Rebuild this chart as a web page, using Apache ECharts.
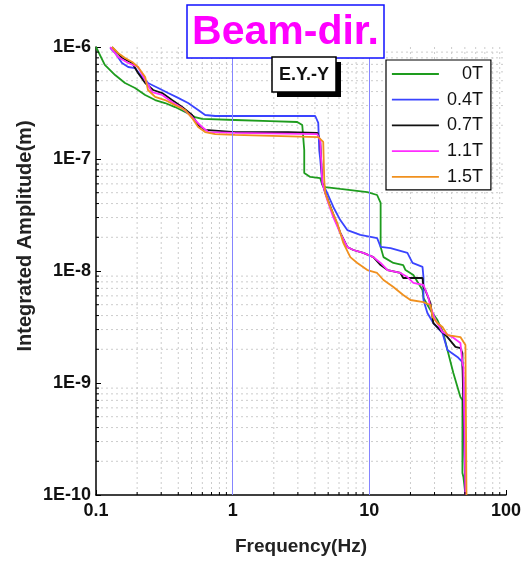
<!DOCTYPE html>
<html><head><meta charset="utf-8">
<script src="https://cdn.jsdelivr.net/npm/echarts@6/dist/echarts.min.js"></script>
<style>html,body{margin:0;padding:0;background:#fff}#c{width:524px;height:561px}</style>
</head><body><div id="c"></div>
<script>
const seriesNames = ['0T', '0.4T', '0.7T', '1.1T', '1.5T'];
const xTickLabels = ['0.1', '1', '10', '100'];
const yTickLabels = ['1E-10', '1E-9', '1E-8', '1E-7', '1E-6'];

const freq0T = [0.1, 0.116, 0.138, 0.163, 0.193, 0.229, 0.271, 0.32, 0.379, 0.449, 0.531, 0.598, 1.04, 1.88, 2.97, 3.23, 3.34, 3.34, 3.7, 4.37, 4.53, 4.76, 6.13, 9.67, 11.4, 12.1, 12.1, 12.7, 15.0, 17.7, 18.4, 21.0, 24.5, 24.9, 28.0, 31.5, 34.8, 37.3, 41.2, 46.4, 48.0, 48.0, 48.8, 50.5];
const amp0T = [1e-6, 6.91e-7, 5.62e-7, 4.77e-7, 4.31e-7, 3.73e-7, 3.36e-7, 3.16e-7, 2.91e-7, 2.63e-7, 2.37e-7, 2.28e-7, 2.23e-7, 2.18e-7, 2.14e-7, 2.01e-7, 1.2e-7, 7.5e-8, 6.91e-8, 6.76e-8, 5.86e-8, 5.62e-8, 5.4e-8, 5.07e-8, 4.77e-8, 4.05e-8, 1.64e-8, 1.33e-8, 1.18e-8, 1.13e-8, 1.02e-8, 9.2e-9, 6.76e-9, 5.74e-9, 4.49e-9, 3.65e-9, 2.79e-9, 1.97e-9, 1.23e-9, 7.5e-10, 7.05e-10, 1.57e-10, 1.45e-10, 1e-10];

const freq04T = [0.127, 0.138, 0.155, 0.172, 0.193, 0.217, 0.24, 0.285, 0.337, 0.399, 0.472, 0.559, 0.629, 0.745, 4.02, 4.23, 4.3, 4.37, 4.53, 4.92, 5.45, 6.13, 6.9, 8.59, 11.4, 12.1, 14.3, 19.0, 20.7, 24.5, 24.9, 24.9, 26.6, 29.4, 34.3, 37.3, 44.1, 48.0, 48.8, 50.5];
const amp04T = [9.8e-7, 8.84e-7, 7.2e-7, 6.63e-7, 6.49e-7, 5.4e-7, 4.77e-7, 4.31e-7, 3.88e-7, 3.51e-7, 3.16e-7, 2.74e-7, 2.47e-7, 2.42e-7, 2.42e-7, 2.1e-7, 1.2e-7, 1e-7, 6.1e-8, 4.97e-8, 3.73e-8, 2.85e-8, 2.32e-8, 2.1e-8, 1.97e-8, 1.64e-8, 1.6e-8, 1.45e-8, 1.18e-8, 1.09e-8, 8.83e-9, 5.51e-9, 4.22e-9, 3.43e-9, 2.79e-9, 1.97e-9, 1.71e-9, 1.54e-9, 1.06e-9, 1e-10];

const freq07T = [0.131, 0.155, 0.184, 0.203, 0.229, 0.262, 0.305, 0.36, 0.427, 0.505, 0.559, 0.629, 1.04, 2.55, 4.16, 4.37, 4.53, 4.76, 5.45, 6.13, 6.9, 7.64, 9.04, 10.7, 12.1, 13.6, 16.9, 17.7, 24.5, 24.9, 25.7, 28.0, 29.4, 33.1, 37.3, 42.7, 46.4, 48.0, 48.0, 50.5];
const amp07T = [1e-6, 7.98e-7, 7.2e-7, 5.86e-7, 4.77e-7, 4.13e-7, 3.88e-7, 3.36e-7, 2.91e-7, 2.47e-7, 2.01e-7, 1.82e-7, 1.74e-7, 1.74e-7, 1.71e-7, 1.47e-7, 6.1e-8, 4.97e-8, 3.2e-8, 2.2e-8, 1.64e-8, 1.54e-8, 1.45e-8, 1.33e-8, 1.13e-8, 1.02e-8, 9.6e-9, 8.66e-9, 8.66e-9, 7.2e-9, 6.76e-9, 5.18e-9, 3.43e-9, 2.97e-9, 2.57e-9, 2.1e-9, 2.05e-9, 1.85e-9, 1.51e-9, 1e-10];

const freq11T = [0.127, 0.145, 0.172, 0.203, 0.229, 0.257, 0.305, 0.36, 0.427, 0.505, 0.598, 0.662, 1.04, 4.16, 4.37, 4.53, 4.92, 5.45, 6.13, 6.9, 7.64, 9.04, 10.7, 12.1, 13.6, 16.9, 19.0, 21.0, 24.9, 27.0, 28.0, 30.5, 34.3, 40.5, 46.4, 48.0, 48.8, 50.5];
const amp11T = [1e-6, 8.14e-7, 7.2e-7, 6.63e-7, 5.07e-7, 3.96e-7, 3.73e-7, 3.23e-7, 2.85e-7, 2.37e-7, 1.93e-7, 1.74e-7, 1.71e-7, 1.67e-7, 1.47e-7, 6.1e-8, 4.31e-8, 3.03e-8, 2.18e-8, 1.64e-8, 1.54e-8, 1.45e-8, 1.33e-8, 1.18e-8, 1.02e-8, 9.6e-9, 8.83e-9, 7.82e-9, 7.5e-9, 5.86e-9, 4.77e-9, 3.65e-9, 2.85e-9, 2.57e-9, 2.28e-9, 1.51e-9, 1.39e-9, 1e-10];

const freq15T = [0.131, 0.145, 0.163, 0.184, 0.203, 0.229, 0.24, 0.271, 0.32, 0.379, 0.449, 0.505, 0.559, 0.629, 0.745, 1.04, 4.23, 4.6, 4.68, 4.76, 5.18, 5.83, 6.45, 7.26, 8.17, 9.67, 11.4, 12.7, 15.0, 17.7, 20.0, 24.9, 28.0, 29.0, 31.5, 34.3, 37.3, 46.4, 50.5, 51.4];
const amp15T = [1e-6, 8.84e-7, 7.98e-7, 7.35e-7, 6.63e-7, 5.4e-7, 4.13e-7, 3.58e-7, 3.36e-7, 3.03e-7, 2.74e-7, 2.32e-7, 1.93e-7, 1.74e-7, 1.67e-7, 1.64e-7, 1.57e-7, 1.42e-7, 6.49e-8, 4.97e-8, 3.73e-8, 2.68e-8, 1.78e-8, 1.33e-8, 1.18e-8, 1.02e-8, 9.6e-9, 8.31e-9, 7.2e-9, 6.11e-9, 5.51e-9, 5.28e-9, 4.97e-9, 3.88e-9, 3.43e-9, 3.16e-9, 2.68e-9, 2.57e-9, 2.18e-9, 1e-10];

const highlightX = [1, 10];
const highlightY = [1e-7];
const minorMult = [2, 3, 4, 5, 6, 7, 8, 9];
const xDecades = [0.1, 1, 10];
const yDecades = [1e-10, 1e-9, 1e-8, 1e-7];

const FONT = '"Liberation Sans", Arial, Helvetica, sans-serif';
const colors = ['#1e9c1e', '#3a44ff', '#111111', '#ff2cff', '#f0901e'];
const freqs = [freq0T, freq04T, freq07T, freq11T, freq15T];
const amps = [amp0T, amp04T, amp07T, amp11T, amp15T];

const series = seriesNames.map((n, k) => ({
  name: n, type: 'line', symbol: 'none', showSymbol: false,
  data: freqs[k].map((f, i) => [f, amps[k][i]]),
  lineStyle: { color: colors[k], width: 1.8 },
  itemStyle: { color: colors[k] },
  z: 3, silent: true
}));
series.unshift({
  name: 'refLines', type: 'line', symbol: 'none', showSymbol: false, z: 1, silent: true,
  data: [[1, 1e-7]], lineStyle: { width: 0 },
  markLine: {
    silent: true, symbol: 'none', label: { show: false },
    lineStyle: { color: '#8585ff', width: 1, type: 'solid' },
    data: highlightX.map(v => ({ xAxis: v })).concat(highlightY.map(v => ({ yAxis: v })))
  }
});

const chart = echarts.init(document.getElementById('c'), null, { renderer: 'canvas', width: 524, height: 561 });
chart.setOption({
  animation: false,
  backgroundColor: '#fff',
  grid: { left: 96, right: 18, top: 47, bottom: 66, containLabel: false },
  xAxis: {
    type: 'log', logBase: 10, min: 0.1, max: 100,
    axisLine: { show: true, onZero: false, lineStyle: { color: '#000', width: 1.5 } },
    axisTick: { show: true, inside: true, length: 5, lineStyle: { color: '#000', width: 1 } },
    axisLabel: {
      formatter: v => xTickLabels[Math.round(Math.log10(v)) + 1],
      fontSize: 18, fontWeight: 'bold', color: '#111', margin: 7, fontFamily: FONT
    },
    splitLine: { show: false },
    name: 'Frequency(Hz)', nameLocation: 'middle', nameGap: 42,
    nameTextStyle: { fontSize: 19, fontWeight: 'bold', color: '#222', fontFamily: FONT }
  },
  yAxis: {
    type: 'log', logBase: 10, min: 1e-10, max: 1e-6,
    axisLine: { show: true, onZero: false, lineStyle: { color: '#000', width: 1.5 } },
    axisTick: { show: true, inside: true, length: 5, lineStyle: { color: '#000', width: 1 } },
    axisLabel: {
      formatter: v => yTickLabels[Math.round(Math.log10(v)) + 10],
      fontSize: 18, fontWeight: 'bold', color: '#111', margin: 5, fontFamily: FONT
    },
    splitLine: { show: false }
  },
  legend: {
    data: seriesNames, orient: 'vertical', left: 386, top: 60,
    backgroundColor: '#fff', borderColor: '#000', borderWidth: 1.2,
    padding: [5, 8, 4, 5], itemWidth: 47, itemHeight: 14, itemGap: 7.7,
    itemStyle: { opacity: 0 },
    lineStyle: { width: 1.8 },
    formatter: n => '{r|' + n + '}',
    textStyle: { rich: { r: { width: 39, align: 'right', fontSize: 18, fontFamily: FONT, color: '#111' } } },
    z: 20
  },
  series: series
});

const px = v => chart.convertToPixel({ xAxisIndex: 0 }, v);
const py = v => chart.convertToPixel({ yAxisIndex: 0 }, v);
const L = px(0.1), R = px(100), T = py(1e-6), B = py(1e-10);
const g = [];
const grey = { stroke: '#cccccc', lineWidth: 1, lineDash: [2, 3] };
xDecades.forEach(d => minorMult.forEach(m => {
  const x = px(d * m);
  g.push({ type: 'line', silent: true, z: 0, shape: { x1: x, y1: T, x2: x, y2: B }, style: grey });
  g.push({ type: 'line', silent: true, z: 6, shape: { x1: x, y1: B, x2: x, y2: B - 3 }, style: { stroke: '#000', lineWidth: 1 } });
}));
yDecades.forEach(d => minorMult.forEach(m => {
  const y = py(d * m);
  g.push({ type: 'line', silent: true, z: 0, shape: { x1: L, y1: y, x2: R, y2: y }, style: grey });
  g.push({ type: 'line', silent: true, z: 6, shape: { x1: L, y1: y, x2: L + 3, y2: y }, style: { stroke: '#000', lineWidth: 1 } });
}));
// Title box
g.push({ type: 'rect', silent: true, z: 10, shape: { x: 187, y: 5, width: 197, height: 53 }, style: { fill: '#fff', stroke: '#1010ff', lineWidth: 1.5 } });
g.push({ type: 'text', silent: true, z: 11, x: 285.5, y: 33, style: { text: 'Beam-dir.', fill: '#ff00ff', font: 'bold 41px ' + FONT, align: 'center', verticalAlign: 'middle' } });
// E.Y.-Y box with shadow
g.push({ type: 'rect', silent: true, z: 10, shape: { x: 277, y: 62, width: 64, height: 35 }, style: { fill: '#000' } });
g.push({ type: 'rect', silent: true, z: 11, shape: { x: 272, y: 57, width: 64, height: 35 }, style: { fill: '#fff', stroke: '#000', lineWidth: 1.5 } });
g.push({ type: 'text', silent: true, z: 12, x: 304, y: 75.5, style: { text: 'E.Y.-Y', fill: '#111', font: 'bold 18px ' + FONT, align: 'center', verticalAlign: 'middle' } });
// Y axis name
g.push({ type: 'text', silent: true, z: 12, x: 25, y: 236, rotation: Math.PI / 2, style: { text: 'Integrated Amplitude(m)', fill: '#222', font: 'bold 20px ' + FONT, align: 'center', verticalAlign: 'middle' } });
chart.setOption({ graphic: g });
</script>
</body></html>
